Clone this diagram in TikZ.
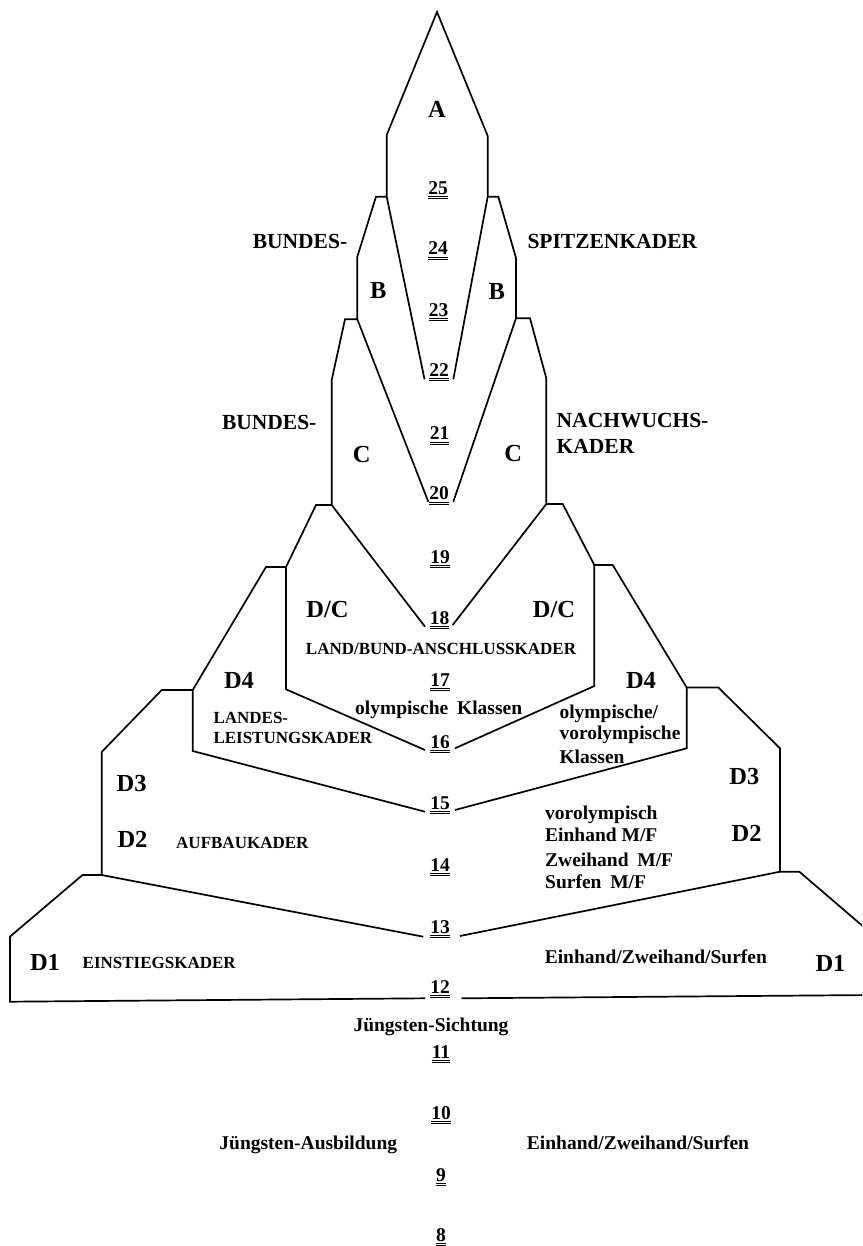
\documentclass[tikz,border=0pt]{standalone}
\usepackage{fontspec}
\setmainfont{Liberation Serif}
\begin{document}
\begin{tikzpicture}[x=1pt,y={(0pt,-1pt)},
  outline/.style={line width=1.7pt, line join=miter},
  ulin/.style={line width=0.8pt},
  txt/.style={inner sep=0pt, text depth=0pt},
  big/.style={txt, text height=16.2pt, font=\fontsize{24.5}{26}\selectfont\bfseries},
  mid/.style={txt, text height=14.2pt, font=\fontsize{21.5}{24}\selectfont\bfseries},
  small/.style={txt, text height=11.2pt, font=\fontsize{17}{20}\selectfont\bfseries},
  lower/.style={txt, text height=12.9pt, font=\fontsize{19.5}{22}\selectfont\bfseries},
  num/.style={txt, text height=13.2pt, font=\fontsize{19.5}{22}\selectfont\bfseries}]
\path[use as bounding box] (0,0) rectangle (862,1246);
\clip (0,0) rectangle (862,1246);
\fill[white] (0,0) rectangle (862,1246);

% ---------- outline coordinates ----------
\coordinate (apex) at (437,12);
\coordinate (al1) at (386.7,135);   \coordinate (ar1) at (487.7,136);
\coordinate (al2) at (386.7,196.7); \coordinate (ar2) at (487.7,196.7);
\coordinate (v22l) at (424.5,379.3); \coordinate (v22r) at (453.3,379.3);
% B / C left
\coordinate (bl1) at (376,196.7);   \coordinate (bl2) at (357.3,256.7);
\coordinate (bl3) at (357.3,319.3); \coordinate (cl1) at (345,319.3);
\coordinate (cl2) at (331.7,380);   \coordinate (cl3) at (331.7,505);
\coordinate (dcl1) at (316,505);    \coordinate (dcl2) at (286,567);
\coordinate (dcl3) at (286,689.3);
\coordinate (d4l1) at (266,567);    \coordinate (d4l2) at (192.7,690);
\coordinate (d4l3) at (192.7,751);
\coordinate (d3l1) at (161.7,690);  \coordinate (d3l2) at (101.7,752);
\coordinate (d3l3) at (101.7,875);
\coordinate (d1l1) at (82.5,875);   \coordinate (d1l2) at (9.9,936.7);
\coordinate (d1l3) at (9.9,1001.7);
% B / C right
\coordinate (br1) at (498.3,196.7); \coordinate (br2) at (516,258);
\coordinate (br3) at (516,318.3);   \coordinate (cr1) at (530,318.3);
\coordinate (cr2) at (546.3,378.3); \coordinate (cr3) at (546.3,504);
\coordinate (dcr1) at (562.7,504);  \coordinate (dcr2) at (594.3,565);
\coordinate (dcr3) at (594.3,686);
\coordinate (d4r1) at (612.7,565);  \coordinate (d4r2) at (686.7,687.5);
\coordinate (d4r3) at (686.7,748.3);
\coordinate (d3r1) at (718.3,687.5); \coordinate (d3r2) at (780,748.3);
\coordinate (d3r3) at (780,871.7);
\coordinate (d1r1) at (799.3,871.7); \coordinate (d1r2) at (872,934);
\coordinate (d1r3) at (872,995);
% ends near the numbers
\coordinate (v20l) at (428.3,501.7); \coordinate (v20r) at (453.3,501.7);
\coordinate (v18l) at (425,626.7);   \coordinate (v18r) at (452.7,625);
\coordinate (v16l) at (425,750);     \coordinate (v16r) at (455,748.3);
\coordinate (v15l) at (425,811.7);   \coordinate (v15r) at (455,810);
\coordinate (v13l) at (423.3,936.7); \coordinate (v13r) at (460,936);
\coordinate (v12l) at (425,998.3);   \coordinate (v12r) at (461.7,998.3);

% ---------- outlines ----------
\draw[outline] (v22l) -- (al2) -- (al1) -- (apex) -- (ar1) -- (ar2) -- (v22r);
\draw[outline] (al2) -- (bl1) -- (bl2) -- (bl3) -- (cl1) -- (cl2) -- (cl3)
  -- (dcl1) -- (dcl2) -- (d4l1) -- (d4l2) -- (d3l1) -- (d3l2) -- (d3l3)
  -- (d1l1) -- (d1l2) -- (d1l3) -- (v12l);
\draw[outline] (ar2) -- (br1) -- (br2) -- (br3) -- (cr1) -- (cr2) -- (cr3)
  -- (dcr1) -- (dcr2) -- (d4r1) -- (d4r2) -- (d3r1) -- (d3r2) -- (d3r3)
  -- (d1r1) -- (d1r2) -- (d1r3) -- (v12r);
\draw[outline] (bl3) -- (v20l);
\draw[outline] (br3) -- (v20r);
\draw[outline] (cl3) -- (v18l);
\draw[outline] (cr3) -- (v18r);
\draw[outline] (dcl2) -- (dcl3) -- (v16l);
\draw[outline] (dcr2) -- (dcr3) -- (v16r);
\draw[outline] (d4l2) -- (d4l3) -- (v15l);
\draw[outline] (d4r2) -- (d4r3) -- (v15r);
\draw[outline] (d3l3) -- (v13l);
\draw[outline] (d3r3) -- (v13r);

% ---------- numbers ----------
\foreach \n/\x/\y in {25/438/188, 24/438/248.3, 23/438.5/310, 22/439/370,
  21/439.5/433.3, 20/439/493.3, 19/440/556.7, 18/439.5/618, 17/440/680,
  16/440/741.7, 15/440/803, 14/440/865, 13/440/927, 12/440/986.7,
  11/441/1051.7, 10/441/1113, 9/441/1175, 8/441/1235} {
  \node[num] (n\n) at (\x,\y) {\n};
  \draw[ulin] ([yshift=-2pt]n\n.south west) -- ([yshift=-2pt]n\n.south east);
  \draw[ulin] ([yshift=-4pt]n\n.south west) -- ([yshift=-4pt]n\n.south east);
}

% ---------- big labels ----------
\node[big] (lA) at (437,109.3) {A};
\node[big] (lBl) at (378.3,290) {B};
\node[big] (lBr) at (496.7,291.7) {B};
\node[big] (lCl) at (361.7,454) {C};
\node[big] (lCr) at (513.3,453) {C};
\node[big] (lDCl) at (327.5,609) {D/C};
\node[big] (lDCr) at (554,609) {D/C};
\node[big] (lD4l) at (239,680) {D4};
\node[big] (lD4r) at (641,680) {D4};
\node[big] (lD3l) at (131.7,783.3) {D3};
\node[big] (lD3r) at (744.3,776.7) {D3};
\node[big] (lD2l) at (132.5,839.3) {D2};
\node[big] (lD2r) at (746.7,833.3) {D2};
\node[big] (lD1l) at (45,962) {D1};
\node[big] (lD1r) at (830.5,963) {D1};

% ---------- medium labels ----------
\node[mid] (tBund1) at (300,241.7) {BUNDES-};
\node[mid, anchor=west] (tSpitz) at (527.3,241) {SPITZENKADER};
\node[mid] (tBund2) at (269.2,422.7) {BUNDES-};
\node[mid, anchor=west] (tNach) at (556.5,420) {NACHWUCHS-};
\node[mid, anchor=west] (tKad) at (556.5,446.7) {KADER};

% ---------- small caps labels ----------
\node[small] (tLand) at (441,649.3) {LAND/BUND-ANSCHLUSSKADER};
\node[small, anchor=west] (tLandes) at (213.3,718.3) {LANDES-};
\node[small, anchor=west] (tLeist) at (213.3,738.3) {LEISTUNGSKADER};
\node[small, anchor=west] (tAuf) at (176,842.7) {AUFBAUKADER};
\node[small, anchor=west] (tEin) at (82.5,962.7) {EINSTIEGSKADER};

% ---------- lower-case labels ----------
\node[lower] (tOlK) at (438.7,708.3) {olympische\hspace{0.45em}Klassen};
\node[lower, anchor=west] (tOl1) at (559.3,711.7) {olympische/};
\node[lower, anchor=west] (tOl2) at (559.3,733.3) {vorolympische};
\node[lower, anchor=west] (tOl3) at (559.3,756.7) {Klassen};
\node[lower, anchor=west] (tVo1) at (545,813.3) {vorolympisch};
\node[lower, anchor=west] (tVo2) at (545,835) {Einhand M/F};
\node[lower, anchor=west] (tVo3) at (545,860) {Zweihand\hspace{0.45em}M/F};
\node[lower, anchor=west] (tVo4) at (545,881.7) {Surfen\hspace{0.45em}M/F};
\node[lower, anchor=west] (tEZS1) at (544.6,956.7) {Einhand/Zweihand/Surfen};
\node[lower] (tJS) at (431,1025) {Jüngsten-Sichtung};
\node[lower] (tJA) at (308.3,1143) {Jüngsten-Ausbildung};
\node[lower, anchor=west] (tEZS2) at (526.7,1143) {Einhand/Zweihand/Surfen};
\end{tikzpicture}
\end{document}
